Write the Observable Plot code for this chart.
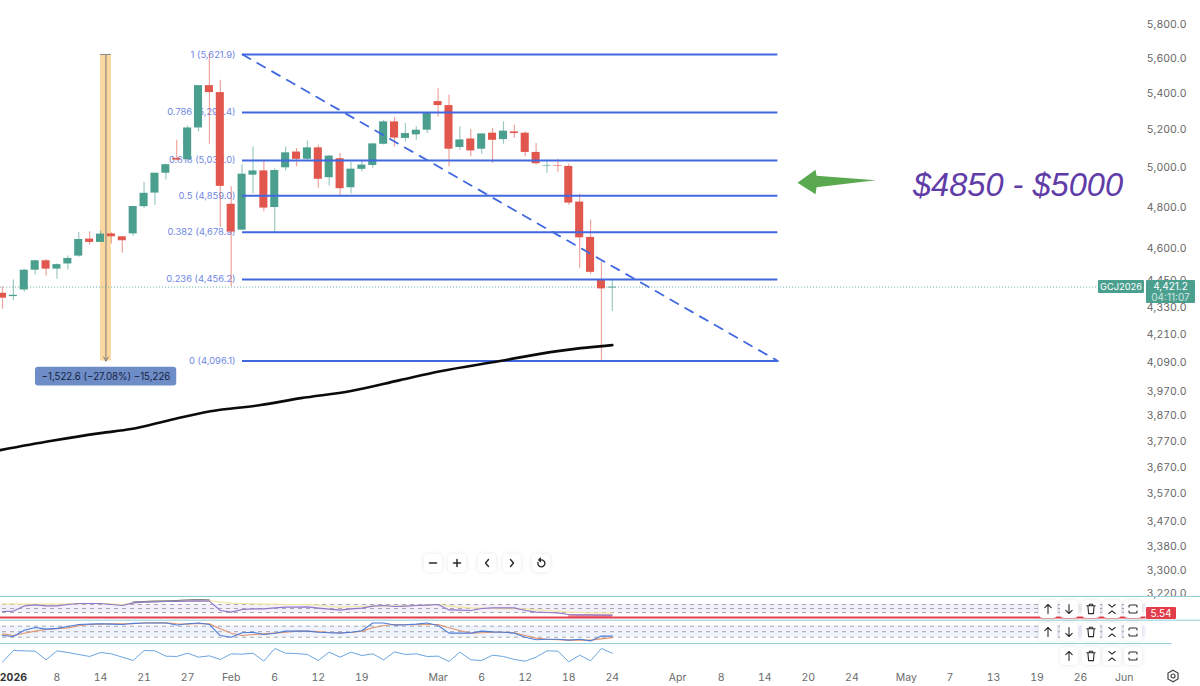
<!DOCTYPE html>
<html>
<head>
<meta charset="utf-8">
<script src="https://cdn.jsdelivr.net/npm/d3@7"></script>
<script src="https://cdn.jsdelivr.net/npm/@observablehq/plot@0.6"></script>
<style>
html,body{margin:0;padding:0;background:#fff}
#root{position:relative;width:1200px;height:686px;overflow:hidden;font-family:Inter,"Liberation Sans",sans-serif}
#root>svg,#root>figure{position:absolute;left:0;margin:0;background:transparent}
.btn{position:absolute;width:18px;height:18px;background:#fff;border-radius:4px;box-shadow:0 0 4px rgba(0,0,0,.10);display:flex;align-items:center;justify-content:center}
.tag{position:absolute;color:#fff;text-align:center;font-size:10px;border-radius:1px}
</style>
</head>
<body>
<div id="root"></div>
<script>
// Daily candles, oldest first
const opens  = [4393,4378,4408,4499,4543,4504,4528,4565,4646,4630,4671,4657,4671,4804,4872,4973,5050,5043,5211,5444,5405,4816,4689,4963,4985,4800,5001,5083,5045,5105,4950,5048,4899,4993,5013,5124,5244,5155,5174,5199,5355,5333,5107,5152,5098,5183,5149,5190,5183,5081,5010,5013,5008,4827,4654,4451,4417];
const closes = [4371,4384,4499,4543,4504,4525,4554,4644,4630,4670,4657,4638,4805,4871,4973,5017,5041,5211,5444,5405,4906,4680,4968,4985,4797,4987,5079,5045,5105,4942,5062,4894,4994,5015,5126,5244,5157,5181,5199,5291,5333,5098,5147,5089,5179,5145,5194,5181,5081,5022,5013,5010,4822,4652,4489,4413,4421];
const highs  = [4423,4454,4503,4546,4549,4528,4565,4678,4681,4686,4676,4657,4805,4926,4973,5020,5145,5221,5444,5622,5474,4904,5015,5110,5041,4996,5110,5102,5141,5119,5065,5076,5029,5032,5126,5253,5268,5235,5217,5291,5427,5390,5217,5203,5179,5208,5244,5226,5190,5128,5036,5045,5019,4866,4738,4538,4454];
const lows   = [4321,4360,4398,4477,4472,4457,4500,4559,4616,4630,4622,4578,4660,4796,4811,4938,5037,5037,5190,5124,4702,4423,4689,4867,4779,4676,4985,5006,5041,4896,4908,4859,4867,4980,4998,5120,5109,5136,5145,5181,5271,5006,5093,5058,5072,5024,5124,5154,5058,5015,4973,4978,4811,4508,4480,4096,4311];

// Moving average
const maBars   = [-0.2,4.4,9,11.8,15.4,19.1,23.7,27.4,32,36.5,40.2,45.7,50.3,53.1,56];
const maPrices = [3736,3771,3802,3818,3854,3889,3914,3942,3971,4016,4053,4096,4134,4151,4164];

// Fibonacci retracement
const fibRatios = ["1","0.786","0.618","0.5","0.382","0.236","0"];
const fibPrices = [5621.9,5295.4,5039.0,4859.0,4678.9,4456.2,4096.1];
const fibStartBar = 22.04, fibEndBar = 71.2;

const lastPrice = 4421.2;
const measureBar = 9.5, measureHigh = 5621.9, measureLow = 4096.1;

// Axes
const priceTicks = [5800,5600,5400,5200,5000,4800,4600,4450,4330,4210,4090,3970,3870,3770,3670,3570,3470,3380,3300,3220];
const dateBars   = [5,9,13,17,21,25,29,33,40,44,48,52,56,62,66,70,74,78,83,87,91,95,99,103];
const dateLabels = ["8","14","21","27","Feb","6","12","19","Mar","6","12","18","24","Apr","8","14","20","24","May","7","13","19","26","Jun"];

// Indicator pane 1
const rsi    = [35,37,63,68,63,63,70,75,75,75,70,65,78,82,83,85,85,87,88,87,40,32,45,48,48,53,57,57,58,52,47,42,48,52,62,65,60,62,65,67,70,43,42,40,50,53,53,53,40,32,30,28,20,18,18,17,17];
const rsiAvg = [73,73,72,72,72,72,73,73,75,75,73,70,78,82,83,85,87,90,92,90,82,77,75,73,72,72,70,70,70,67,60,57,60,60,62,62,62,63,65,67,70,63,57,53,52,50,48,48,47,43,40,37,32,30,28,28,27];
const bandBars = [12,13,14,15,16,17,18,19];
const bandTop  = [82,85,87,88,90,93,95,93];
const lowLine  = 5.54;
// Indicator pane 2
const stochK = [29,24,58,73,64,68,78,89,91,93,91,89,95,97,97,97,86,93,97,89,29,20,44,47,35,42,53,53,53,47,44,42,47,55,97,97,86,88,91,97,84,42,42,42,53,49,47,42,20,6,9,9,4,9,0,26,26];
const stochD = [38,29,42,53,62,66,71,82,89,91,93,93,93,97,98,98,93,91,95,93,66,42,29,35,38,42,47,53,53,51,46,44,46,53,71,84,89,88,88,89,89,71,57,42,44,47,47,44,29,15,9,7,4,5,4,11,18];
// Indicator pane 3
const momentum = [10,80,78,76,24,78,68,56,44,68,60,40,20,80,78,46,44,64,40,48,26,60,58,64,16,92,64,62,56,20,70,40,70,50,60,24,72,56,60,44,46,14,70,24,20,52,44,26,16,40,78,76,12,52,18,92,64];

// Annotation arrow outline (bar, price)
const arrowBars   = [73,74.66,74.75,80.2,74.75,74.66,73];
const arrowPrices = [4924,4991,4960,4937,4902,4866,4924];

const UP = "#4b9f8f", DOWN = "#e2574d", BLUE = "#4168e0", LINE = "#93cdd9";
const xOpts = {type:"linear", domain:[0,100], range:[2,1091], axis:null};
const candles = opens.map((o,i)=>({i, o, c:closes[i], h:highs[i], l:lows[i], col: closes[i]>=o ? UP : DOWN}));
const fibs = fibRatios.map((r,k)=>({r, p:fibPrices[k]}));
const fmt = d3.format(",.1f");
const root = document.getElementById("root");

const main = Plot.plot({
  width:1200, height:686, marginTop:0, marginLeft:0, marginRight:0, marginBottom:16,
  style:{background:"transparent", fontFamily:"Inter, sans-serif"},
  x:{type:"linear", domain:[0,100], range:[2,1091]},
  y:{type:"log", domain:[5800,3220], range:[23.8,593.5]},
  marks:[
    Plot.axisX(dateBars,{anchor:"bottom", tickSize:0, tickPadding:3, label:null, fontSize:10.5, fill:"#6b6b6b", tickFormat:(d)=>dateLabels[dateBars.indexOf(d)]}),
    Plot.axisX([1],{anchor:"bottom", tickSize:0, tickPadding:3, label:null, fontSize:10.5, fill:"#333", fontWeight:700, tickFormat:()=>"2026"}),
    Plot.axisY(priceTicks,{anchor:"right", tickSize:0, tickPadding:0, dx:-14, textAnchor:"end", label:null, fontSize:10.5, fill:"#666", tickFormat:fmt}),
    Plot.rect([{}],{x1:9,x2:10,y1:measureLow,y2:measureHigh,fill:"#fbd89f"}),
    Plot.ruleY([lastPrice],{x1:-1,x2:100.6,stroke:"#5fae9f",strokeWidth:1,strokeDasharray:"1,2"}),
    Plot.text(fibs,{x:21.4,y:"p",text:d=>`${d.r} (${fmt(d.p)})`,textAnchor:"end",fontSize:9.4,fill:"#6f86e6"}),
    Plot.ruleX(candles,{x:"i",y1:"l",y2:"h",stroke:"col",strokeOpacity:0.55,strokeWidth:1.2}),
    Plot.rect(candles,{x1:d=>d.i-0.37,x2:d=>d.i+0.37,y1:"o",y2:"c",fill:"col"}),
    Plot.arrow([{}],{x1:measureBar,x2:measureBar,y1:measureHigh,y2:measureLow,stroke:"#7a7a7a",strokeWidth:1,headLength:7,insetEnd:0}),
    Plot.ruleY([measureHigh],{x1:9,x2:10,stroke:"#8a8a8a",strokeWidth:1}),
    Plot.rect([{}],{x1:3.03,x2:16,y1:3992,y2:4070,fill:"#6e8cc6",rx:3}),
    Plot.text([{}],{x:9.5,y:4031,text:()=>"\u22121,522.6 (\u221227.08%) \u221215,226",fontSize:9.7,fill:"#16233f"}),
    Plot.ruleY(fibPrices,{x1:fibStartBar,x2:fibEndBar,stroke:BLUE,strokeWidth:2}),
    Plot.line([0,1],{x:i=>[fibStartBar,fibEndBar][i],y:i=>[fibPrices[0],fibPrices[6]][i],stroke:BLUE,strokeWidth:1.8,strokeDasharray:"9,8"}),
    Plot.line(maBars,{x:d=>d,y:(d,i)=>maPrices[i],stroke:"#0b0b0b",strokeWidth:2.6,curve:"monotone-x"}),
    Plot.line(arrowBars,{x:d=>d,y:(d,i)=>arrowPrices[i],fill:"#5aa950",stroke:"none"}),
    Plot.text([{}],{x:83.6,y:4912,text:()=>"$4850 - $5000",textAnchor:"start",fontSize:32.6,fontStyle:"italic",fontFamily:"Liberation Sans, sans-serif",fill:"#5f3ca8"})
  ]
});
main.style.top="0px";
root.appendChild(main);

function pane(top,height,yOpts,marks){
  const p = Plot.plot({width:1200,height,marginTop:0,marginLeft:0,marginRight:0,marginBottom:0,
    style:{background:"transparent"},x:xOpts,y:{...yOpts,axis:null},marks});
  p.style.top=top+"px";
  root.appendChild(p);
}
const bars = rsi.map((_,i)=>i);
const DASH = {x1:0,x2:105,stroke:"#a8a8b0",strokeWidth:1,strokeDasharray:"4,4"};

pane(594,26,{domain:[0,100],range:[24,4]},[
  Plot.ruleY([110],{x1:-1,x2:110,stroke:LINE,strokeWidth:1}),
  Plot.rect([{}],{x1:-1,x2:105,y1:30,y2:70,fill:"#f3effb"}),
  Plot.ruleY([70,50,30],DASH),
  Plot.areaY(bandBars,{x:d=>d,y1:(d,i)=>bandTop[i],y2:d=>rsi[d],fill:"#a9cf7c"}),
  Plot.areaY(bars.slice(52),{x:d=>d,y1:d=>rsi[d],y2:lowLine,fill:"#ee93a3"}),
  Plot.line(bars,{x:d=>d,y:d=>rsiAvg[d],stroke:"#f2e7a0",strokeWidth:1.2}),
  Plot.line(bandBars,{x:d=>d,y:(d,i)=>bandTop[i],stroke:"#7d7d8d",strokeWidth:1}),
  Plot.line(bars,{x:d=>d,y:d=>rsi[d],stroke:"#8e78c8",strokeWidth:1.1}),
  Plot.ruleY([lowLine],{x1:-1,x2:105,stroke:"#e2404f",strokeWidth:2})
]);
pane(618,26,{domain:[0,100],range:[22.4,4]},[
  Plot.ruleY([112.5],{x1:-1,x2:110,stroke:LINE,strokeWidth:1}),
  Plot.rect([{}],{x1:-1,x2:105,y1:20,y2:80,fill:"#eef3fd"}),
  Plot.ruleY([80,50,20],DASH),
  Plot.line(bars,{x:d=>d,y:d=>stochD[d],stroke:"#e0956b",strokeWidth:1.1}),
  Plot.line(bars,{x:d=>d,y:d=>stochK[d],stroke:"#4d7cd8",strokeWidth:1.1})
]);
pane(640,28,{domain:[0,100],range:[23.3,6.7]},[
  Plot.ruleY([122],{x1:-1,x2:107.4,stroke:LINE,strokeWidth:1}),
  Plot.line(bars,{x:d=>d,y:d=>momentum[d],stroke:"#6aa5e0",strokeWidth:1})
]);

// Chart interface furniture
function el(cls,css,html){const d=document.createElement("div");d.className=cls;d.style.cssText=css;d.innerHTML=html||"";root.appendChild(d);return d;}
const ico = p=>`<svg width="12" height="12" viewBox="0 0 12 12" fill="none" stroke="#2b2b2b" stroke-width="1.1" stroke-linecap="round" stroke-linejoin="round">${p}</svg>`;
const icons = {
  minus:ico('<path d="M2.5 6h7" stroke-width="1.5"/>'),
  plus:ico('<path d="M2.5 6h7M6 2.5v7" stroke-width="1.5"/>'),
  left:ico('<path d="M7.5 2.5 4.5 6l3 3.5" stroke-width="1.4"/>'),
  right:ico('<path d="M4.5 2.5 7.5 6l-3 3.5" stroke-width="1.4"/>'),
  reset:ico('<path d="M3 5.5a3.5 3.5 0 1 0 2.5-2.5H4M5.5 1.2 3.8 3l1.7 1.6" stroke-width="1.4"/>'),
  up:ico('<path d="M6 10.5v-9M2.8 4.6 6 1.5l3.2 3.1"/>'),
  down:ico('<path d="M6 1.5v9M2.8 7.4 6 10.5l3.2-3.1"/>'),
  trash:ico('<path d="M1.8 2.8h8.4M4.4 2.6V1.3h3.2v1.3M2.9 3l.7 7.6h4.8L9.1 3"/>'),
  collapse:ico('<path d="M2.8 1.5 6 4.2l3.2-2.7M2.8 10.5 6 7.8l3.2 2.7"/>'),
  expand:ico('<path d="M2 4V3a1 1 0 0 1 1-1h6a1 1 0 0 1 1 1v1M2 8v1a1 1 0 0 0 1 1h6a1 1 0 0 0 1-1V8"/>')
};
function btn(x,y,i){el("btn",`left:${x-9}px;top:${y-9}px`,icons[i]);}
[[433,"minus"],[457,"plus"],[487,"left"],[512,"right"],[541,"reset"]].forEach(([x,i])=>btn(x,563,i));
[[1048,"up"],[1069,"down"],[1091,"trash"],[1112,"collapse"],[1133,"expand"]].forEach(([x,i])=>{btn(x,609,i);btn(x,632,i);});
[[1069,"up"],[1091,"trash"],[1112,"collapse"],[1133,"expand"]].forEach(([x,i])=>btn(x,656,i));

el("tag",`left:1098px;top:280px;width:46px;height:13px;line-height:13px;background:#4b9f8f;font-size:9.3px`,"GCJ2026");
el("tag",`left:1146px;top:280px;width:49px;height:23px;background:#4b9f8f;line-height:11px;padding-top:1px;box-sizing:border-box`,`4,421.2<br><span style="color:#cfe6e0">04:11:07</span>`);
el("tag",`left:1146px;top:607px;width:30px;height:12px;line-height:12px;background:#e23d4a;border-radius:1px`,"5.54");
el("",`position:absolute;left:1150px;top:635px;width:24px;text-align:right;font-size:10.5px;color:#666;line-height:14px;z-index:-1`,"0.00");
el("",`position:absolute;left:1165px;top:668px;width:16px;height:16px`,`<svg width="16" height="16" viewBox="0 0 16 16" fill="none" stroke="#444" stroke-width="1.2"><path d="M8 2.2 13 5v6l-5 2.8L3 11V5z"/><circle cx="8" cy="8" r="2"/></svg>`);
</script>
</body>
</html>
